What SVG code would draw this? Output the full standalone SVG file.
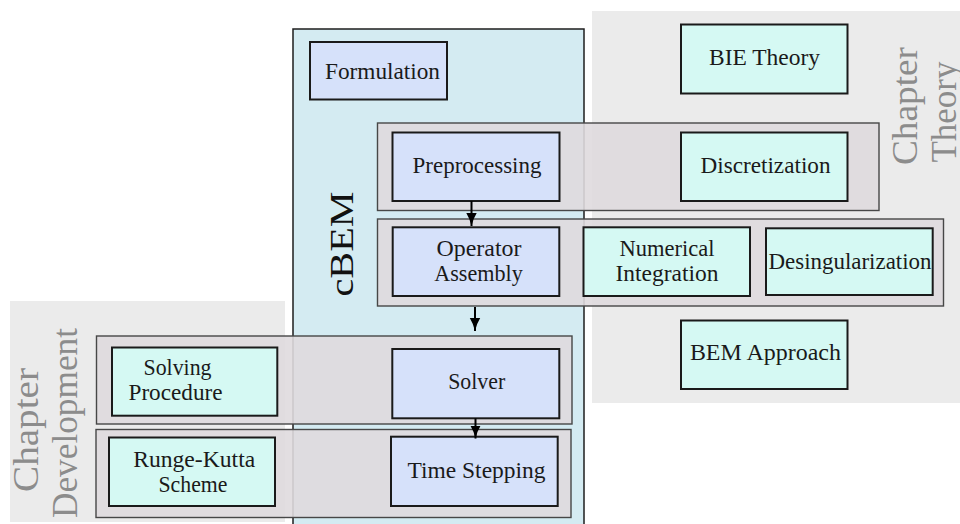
<svg xmlns="http://www.w3.org/2000/svg" width="960" height="524" viewBox="0 0 960 524">
  <style>
    .chapter { fill: #ebebeb; stroke: none; }
    .chaptext { font-family: "Liberation Serif", "DejaVu Serif", serif; font-size: 36px; fill: #8c8c8c; text-anchor: middle; }
    .module { fill: #d4ebf2; stroke: #1e1e1e; stroke-width: 1.5; }
    .modtext { font-family: "Liberation Serif", "DejaVu Serif", serif; font-size: 34px; fill: #111; text-anchor: middle; }
    .group rect { fill: #dfdade; fill-opacity: 0.9; stroke: #474747; stroke-width: 1.4; }
    .node rect { stroke: #1a1a1a; stroke-width: 2; }
    .impl rect { fill: #d6e1fa; }
    .theo rect { fill: #d5f9f3; }
    .node text { font-family: "Liberation Serif", "DejaVu Serif", serif; font-size: 22.5px; fill: #1a1a1a; text-anchor: middle; }
    .edge { stroke: #000; stroke-width: 2; fill: none; marker-end: url(#tip); }
  </style>
  <defs>
    <marker id="tip" markerUnits="userSpaceOnUse" markerWidth="14" markerHeight="12" refX="13" refY="6" orient="auto">
      <path d="M0,0.8 Q6,4.5 13,6 Q6,7.5 0,11.2 Z" fill="#000"/>
    </marker>
  </defs>

  <rect width="960" height="524" fill="#fff"/>

  <!-- chapter backgrounds -->
  <g id="chapter-theory">
    <rect class="chapter" x="592" y="11" width="368" height="392"/>
    <text class="chaptext" transform="translate(917,106) rotate(-90)" textLength="118" lengthAdjust="spacingAndGlyphs">Chapter</text>
    <text class="chaptext" transform="translate(956,112) rotate(-90)" textLength="101" lengthAdjust="spacingAndGlyphs">Theory</text>
  </g>
  <g id="chapter-development">
    <rect class="chapter" x="10" y="301" width="275" height="221"/>
    <text class="chaptext" transform="translate(38,430) rotate(-90)" textLength="124" lengthAdjust="spacingAndGlyphs">Chapter</text>
    <text class="chaptext" transform="translate(77,423) rotate(-90)" textLength="190" lengthAdjust="spacingAndGlyphs">Development</text>
  </g>

  <!-- cBEM module frame -->
  <g id="cbem">
    <rect class="module" x="293" y="29" width="291" height="500"/>
    <text class="modtext" transform="translate(353,244) rotate(-90)" textLength="105" lengthAdjust="spacingAndGlyphs">cBEM</text>
  </g>

  <!-- row groups -->
  <g id="row-preprocessing" class="group"><rect x="377.5" y="123" width="501.5" height="87.5"/></g>
  <g id="row-operator" class="group"><rect x="377.5" y="219" width="566" height="87"/></g>
  <g id="row-solver" class="group"><rect x="96.5" y="336" width="475.5" height="88"/></g>
  <g id="row-timestepping" class="group"><rect x="96" y="429.5" width="475" height="88"/></g>

  <!-- nodes -->
  <g id="formulation" class="node impl">
    <rect x="310" y="42" width="137" height="57.5"/>
    <text x="382.5" y="79" textLength="115" lengthAdjust="spacingAndGlyphs">Formulation</text>
  </g>
  <g id="preprocessing" class="node impl">
    <rect x="392.5" y="132.5" width="167" height="68.5"/>
    <text x="477" y="172.5" textLength="129" lengthAdjust="spacingAndGlyphs">Preprocessing</text>
  </g>
  <g id="bie-theory" class="node theo">
    <rect x="681" y="24.5" width="166.5" height="69"/>
    <text x="764.5" y="65" textLength="111" lengthAdjust="spacingAndGlyphs">BIE Theory</text>
  </g>
  <g id="discretization" class="node theo">
    <rect x="681" y="132.5" width="166.5" height="68.5"/>
    <text x="765.5" y="172.7" textLength="130" lengthAdjust="spacingAndGlyphs">Discretization</text>
  </g>
  <g id="operator-assembly" class="node impl">
    <rect x="392.7" y="227.3" width="166.6" height="68.7"/>
    <text x="479" y="256" textLength="85" lengthAdjust="spacingAndGlyphs">Operator</text>
    <text x="478.5" y="281" textLength="88.5" lengthAdjust="spacingAndGlyphs">Assembly</text>
  </g>
  <g id="numerical-integration" class="node theo">
    <rect x="583.5" y="227.3" width="166.5" height="68.7"/>
    <text x="667" y="256" textLength="95" lengthAdjust="spacingAndGlyphs">Numerical</text>
    <text x="667" y="281" textLength="103" lengthAdjust="spacingAndGlyphs">Integration</text>
  </g>
  <g id="desingularization" class="node theo">
    <rect x="766" y="228.3" width="166.7" height="66.7"/>
    <text x="850" y="269" textLength="163" lengthAdjust="spacingAndGlyphs">Desingularization</text>
  </g>
  <g id="bem-approach" class="node theo">
    <rect x="681" y="320.5" width="166.5" height="68.5"/>
    <text x="765.4" y="360" textLength="151" lengthAdjust="spacingAndGlyphs">BEM Approach</text>
  </g>
  <g id="solving-procedure" class="node theo">
    <rect x="112" y="347.5" width="165.3" height="68.2"/>
    <text x="177.5" y="375" textLength="68" lengthAdjust="spacingAndGlyphs">Solving</text>
    <text x="175.5" y="400" textLength="94" lengthAdjust="spacingAndGlyphs">Procedure</text>
  </g>
  <g id="solver" class="node impl">
    <rect x="392.3" y="349" width="167" height="69.3"/>
    <text x="476.7" y="389" textLength="57" lengthAdjust="spacingAndGlyphs">Solver</text>
  </g>
  <g id="runge-kutta" class="node theo">
    <rect x="109" y="437.5" width="166" height="68.5"/>
    <text x="194.2" y="466.7" textLength="122" lengthAdjust="spacingAndGlyphs">Runge-Kutta</text>
    <text x="193" y="491.7" textLength="69" lengthAdjust="spacingAndGlyphs">Scheme</text>
  </g>
  <g id="time-stepping" class="node impl">
    <rect x="391" y="436.7" width="166.7" height="69.3"/>
    <text x="476.5" y="478.3" textLength="138" lengthAdjust="spacingAndGlyphs">Time Stepping</text>
  </g>

  <!-- connectors -->
  <g id="edges">
    <line class="edge" x1="471.5" y1="201" x2="471.5" y2="226"/>
    <line class="edge" x1="475" y1="307" x2="475" y2="331"/>
    <line class="edge" x1="475.5" y1="418.3" x2="475.5" y2="438.5"/>
  </g>
</svg>
